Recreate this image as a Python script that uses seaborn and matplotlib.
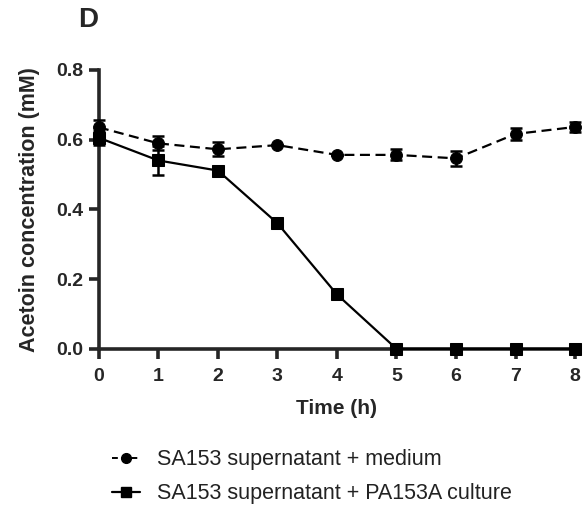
import matplotlib
matplotlib.use('Agg')
import matplotlib.pyplot as plt
import seaborn as sns
import pandas as pd
from matplotlib.lines import Line2D

# values
time_h = [0, 1, 2, 3, 4, 5, 6, 7, 8]
medium_mean = [0.635, 0.589, 0.572, 0.584, 0.556, 0.556, 0.546, 0.616, 0.636]
medium_err = [0.02, 0.02, 0.02, 0.0, 0.0, 0.016, 0.022, 0.016, 0.015]
culture_mean = [0.605, 0.540, 0.511, 0.360, 0.156, 0.0, 0.0, 0.0, 0.0]
culture_err = [0.02, 0.042, 0.0, 0.0, 0.0, 0.0, 0.0, 0.0, 0.0]
labels = ['SA153 supernatant + medium', 'SA153 supernatant + PA153A culture']

sns.set_style('ticks')
plt.rcParams['font.family'] = ['Liberation Sans', 'DejaVu Sans']

df = pd.DataFrame({'time': time_h * 2,
                   'acetoin': medium_mean + culture_mean,
                   'group': [labels[0]] * 9 + [labels[1]] * 9})

fig = plt.figure(figsize=(5.85, 5.13), dpi=100)
ax = fig.add_axes([0.169, 0.32, 0.814, 0.544])

styles = {labels[0]: ('o', (4.5, 2.5)), labels[1]: ('s', '')}
for lab, mean, err in [(labels[0], medium_mean, medium_err), (labels[1], culture_mean, culture_err)]:
    marker, dash = styles[lab]
    ax.errorbar(time_h, mean, yerr=err, fmt='none', ecolor='black', elinewidth=1.8,
                capsize=4.2, capthick=1.8, clip_on=False, zorder=3)
    sns.lineplot(data=df[df.group == lab], x='time', y='acetoin', ax=ax, color='black',
                 marker=marker, markersize=8.5, markeredgecolor='black', linewidth=1.6,
                 dashes=False, legend=False, clip_on=False, zorder=4)
    if dash:
        ax.lines[-1].set_dashes(dash)

ax.set_xlim(0, 8)
ax.set_ylim(0, 0.8)
ax.set_xticks(range(0, 9))
ax.set_yticks([0.0, 0.2, 0.4, 0.6, 0.8])
ax.set_yticklabels(['0.0', '0.2', '0.4', '0.6', '0.8'])
for s in ['top', 'right']:
    ax.spines[s].set_visible(False)
for s in ['left', 'bottom']:
    ax.spines[s].set_linewidth(2.6)
ax.tick_params(width=2.6, length=7, labelsize=14, pad=4)
ax.tick_params(axis='x', pad=7)
for t in ax.get_xticklabels() + ax.get_yticklabels():
    t.set_fontweight('bold')
ax.set_xlabel('Time (h)', fontsize=15, fontweight='bold', labelpad=10)
ax.set_ylabel('Acetoin concentration (mM)', fontsize=15.5, fontweight='bold', labelpad=12)

fig.text(0.15, 0.961, 'D', fontsize=20, fontweight='bold', ha='center', va='center')

handles = [Line2D([], [], color='black', marker='o', linestyle=(0, (3, 2)), markersize=7, linewidth=1.4),
           Line2D([], [], color='black', marker='s', linestyle='-', markersize=7, linewidth=1.6)]
fig.legend(handles, labels, loc='upper left', bbox_to_anchor=(0.177, 0.141), frameon=False,
           fontsize=15.5, handlelength=1.3, labelspacing=0.6, handletextpad=0.8,
           labelcolor='#222222', borderaxespad=0)

plt.savefig('out.png', dpi=100)
plt.close()
